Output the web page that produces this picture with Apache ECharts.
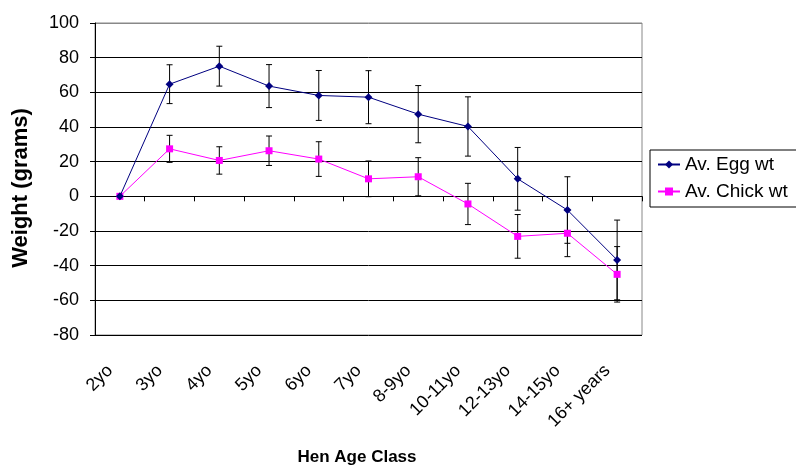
<!DOCTYPE html>
<html>
<head>
<meta charset="utf-8">
<script src="https://cdn.jsdelivr.net/npm/echarts@6/dist/echarts.min.js"></script>
<style>
html,body{margin:0;padding:0;background:#fff;}
#chart{width:796px;height:468px;}
</style>
</head>
<body>
<div id="chart"></div>
<script>
var categories = ['2yo','3yo','4yo','5yo','6yo','7yo','8-9yo','10-11yo','12-13yo','14-15yo','16+ years'];
var eggMean  = [0, 64.7, 75.1, 63.6, 58.2, 57.2, 47.4, 40.3, 10.1, -7.9, -36.7];
var eggErr   = [0, 11.2, 11.5, 12.4, 14.4, 15.3, 16.5, 17.1, 18.1, 19.2, 23.0];
var chickMean = [0, 27.4, 20.7, 26.3, 21.5, 10.1, 11.3, -4.4, -23.1, -21.3, -45.0];
var chickErr  = [0, 7.8, 7.9, 8.5, 10.0, 10.3, 11.0, 11.9, 12.6, 13.5, 16.0];
var yTicks = {min: -80, max: 100, interval: 20};
var seriesNames = ['Av. Egg wt', 'Av. Chick wt'];

var FONT = '"Liberation Sans", Arial, sans-serif';

function errData(mean, err) {
  return mean.map(function (m, i) { return [i, m - err[i], m + err[i]]; })
             .filter(function (d) { return d[2] - d[1] > 0; });
}

function renderErr(params, api) {
  var i = api.value(0);
  var lo = api.coord([i, api.value(1)]);
  var hi = api.coord([i, api.value(2)]);
  var hw = 3;
  var style = {stroke: '#000', lineWidth: 1, fill: null};
  return {
    type: 'group',
    children: [
      {type: 'line', shape: {x1: lo[0], y1: lo[1], x2: hi[0], y2: hi[1]}, style: style},
      {type: 'line', shape: {x1: lo[0] - hw, y1: lo[1], x2: lo[0] + hw, y2: lo[1]}, style: style},
      {type: 'line', shape: {x1: hi[0] - hw, y1: hi[1], x2: hi[0] + hw, y2: hi[1]}, style: style}
    ]
  };
}

var chart = echarts.init(document.getElementById('chart'), null, {renderer: 'canvas'});
chart.setOption({
  animation: false,
  backgroundColor: '#fff',
  grid: {left: 95, right: 154, top: 23, bottom: 133, show: true, borderColor: '#888', borderWidth: 1, backgroundColor: 'transparent'},
  legend: {
    left: 650, top: 150, orient: 'vertical',
    borderColor: '#000', borderWidth: 1, borderRadius: 0,
    padding: [5, 20, 6, 7],
    itemWidth: 22, itemHeight: 10, itemGap: 8,
    textStyle: {fontFamily: FONT, fontSize: 19, color: '#000'},
    data: seriesNames
  },
  xAxis: {
    type: 'category', data: categories, boundaryGap: true,
    axisLine: {lineStyle: {color: '#000', width: 1}},
    axisTick: {show: true, interval: 0, length: 5, lineStyle: {color: '#000'}},
    axisLabel: {interval: 0, rotate: 45, margin: 23, padding: [0, 14, 0, 0], fontFamily: FONT, fontSize: 18, color: '#000'},
    splitLine: {show: false}
  },
  yAxis: {
    type: 'value', min: yTicks.min, max: yTicks.max, interval: yTicks.interval,
    axisLine: {show: true, lineStyle: {color: '#000', width: 1}},
    axisTick: {show: true, length: 5, lineStyle: {color: '#000'}},
    axisLabel: {margin: 16, fontFamily: FONT, fontSize: 18, color: '#000'},
    splitLine: {show: true, lineStyle: {color: ['#000','#000','#000','#000','#000','#000','#000','#000','#000','#888'], width: 1}}
  },
  graphic: [
    {type: 'text', x: 21, y: 188, rotation: Math.PI / 2,
     style: {text: 'Weight (grams)', fontFamily: FONT, fontWeight: 'bold', fontSize: 22, fill: '#000', align: 'center', verticalAlign: 'middle'}},
    {type: 'text', x: 357, y: 457,
     style: {text: 'Hen Age Class', fontFamily: FONT, fontWeight: 'bold', fontSize: 17, fill: '#000', align: 'center', verticalAlign: 'middle'}}
  ],
  series: [
    {type: 'custom', name: 'eggErr', renderItem: renderErr, data: errData(eggMean, eggErr), z: 1, silent: true},
    {type: 'custom', name: 'chickErr', renderItem: renderErr, data: errData(chickMean, chickErr), z: 1, silent: true},
    {type: 'line', name: seriesNames[0], data: eggMean, z: 3,
     symbol: 'diamond', symbolSize: 8,
     lineStyle: {color: '#000080', width: 1}, itemStyle: {color: '#000080'}},
    {type: 'line', name: seriesNames[1], data: chickMean, z: 2,
     symbol: 'rect', symbolSize: 7,
     lineStyle: {color: '#FF00FF', width: 1}, itemStyle: {color: '#FF00FF'}}
  ]
});
</script>
</body>
</html>
